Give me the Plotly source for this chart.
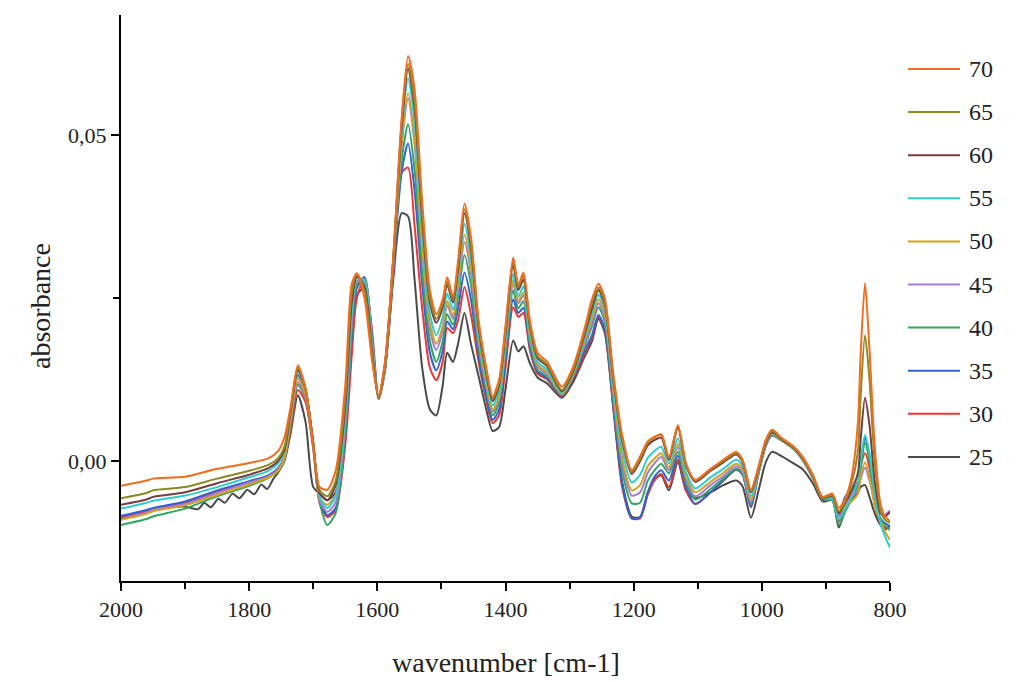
import plotly.graph_objects as go

wavenumber = [2000, 1960, 1950, 1900, 1850, 1800, 1770, 1755, 1745, 1735, 1724, 1712, 1700, 1690, 1678, 1665,
              1650, 1640, 1632, 1620, 1608, 1598, 1588, 1575, 1562, 1552, 1542, 1530, 1518, 1508, 1498, 1491,
              1482, 1474, 1464, 1454, 1442, 1430, 1420, 1410, 1400, 1388, 1380, 1372, 1362, 1350, 1335, 1312,
              1295, 1278, 1265, 1255, 1245, 1232, 1218, 1203, 1190, 1178, 1168, 1157, 1145, 1131, 1118, 1104,
              1080, 1060, 1040, 1030, 1017, 1005, 994, 984, 970, 950, 936, 920, 905, 890, 880, 870, 860, 850,
              846, 839, 832, 824, 815, 808, 800]

# the 25 series is noisier between 1900 and 1760, so it has its own, denser wavenumber list
wavenumber_25 = [2000, 1960, 1950, 1900, 1880, 1870, 1860, 1848, 1838, 1826, 1815, 1803, 1792, 1781, 1772, 1762,
                 1755, 1745, 1735, 1724, 1712, 1700, 1690, 1678, 1665,
                 1650, 1640, 1632, 1620, 1608, 1598, 1588, 1575, 1562, 1552, 1542, 1530, 1518, 1508, 1498, 1491,
                 1482, 1474, 1464, 1454, 1442, 1430, 1420, 1410, 1400, 1388, 1380, 1372, 1362, 1350, 1335, 1312,
                 1295, 1278, 1265, 1255, 1245, 1232, 1218, 1203, 1190, 1178, 1168, 1157, 1145, 1131, 1118, 1104,
                 1080, 1060, 1040, 1030, 1017, 1005, 994, 984, 970, 950, 936, 920, 905, 890, 880, 870, 860, 850,
                 846, 839, 832, 824, 815, 808, 800]

s70 = [-.0038, -.0030, -.0027, -.0024, -.0012, -.0003, .0004, .0015, .0036, .0085, .0147, .0110, .0025, -.0040, -.0044, -.0015,
       .0116, .0271, .0288, .0250, .0152, .0100, .0152, .0316, .0526, .0621, .0571, .0398, .0262, .0225, .0248, .0282,
       .0252, .0307, .0395, .0344, .0216, .0143, .0099, .0125, .0207, .0312, .0271, .0289, .0216, .0166, .0152, .0114,
       .0143, .0198, .0248, .0272, .0250, .0135, .0040, -.0014, .0007, .0030, .0037, .0040, .0005, .0055, -.0005, -.0029,
       -.0012, .0002, .0014, .0002, -.0044, -.0008, .0032, .0048, .0036, .0022, .0006, -.0022, -.0055, -.0050, -.0072, -.0058, -.0025, .0060,
       .0160, .0273, .0170, .0025, -.0065, -.0085, -.0092]

s65 = [-.0057, -.0049, -.0045, -.0040, -.0027, -.0015, -.0006, .0004, .0022, .0080, .0143, .0112, .0026, -.0045, -.0054, -.0030,
       .0098, .0257, .0287, .0262, .0160, .0098, .0150, .0313, .0521, .0609, .0553, .0382, .0251, .0218, .0242, .0275,
       .0248, .0300, .0386, .0334, .0211, .0139, .0096, .0120, .0202, .0307, .0267, .0284, .0211, .0161, .0148, .0109,
       .0139, .0193, .0242, .0266, .0244, .0131, .0036, -.0017, .0003, .0028, .0036, .0041, .0006, .0054, -.0006, -.0030,
       -.0013, .0000, .0012, .0000, -.0046, -.0010, .0030, .0046, .0035, .0021, .0005, -.0023, -.0057, -.0052, -.0077, -.0062, -.0035, .0015,
       .0095, .0193, .0125, .0000, -.0075, -.0090, -.0095]

s60 = [-.0067, -.0059, -.0055, -.0048, -.0034, -.0021, -.0011, .0000, .0017, .0077, .0140, .0110, .0028, -.0050, -.0060, -.0037,
       .0084, .0243, .0283, .0268, .0166, .0097, .0149, .0311, .0512, .0602, .0542, .0371, .0243, .0212, .0236, .0271,
       .0243, .0293, .0380, .0327, .0205, .0134, .0092, .0116, .0196, .0301, .0262, .0278, .0207, .0158, .0145, .0107,
       .0136, .0189, .0234, .0262, .0240, .0127, .0032, -.0020, .0000, .0024, .0032, .0036, .0002, .0051, -.0008, -.0032,
       -.0015, -.0002, .0010, -.0002, -.0048, -.0012, .0028, .0044, .0034, .0020, .0004, -.0024, -.0058, -.0053, -.0080, -.0064, -.0045, -.0018,
       .0030, .0097, .0055, -.0030, -.0080, -.0085, -.0078]

s55 = [-.0073, -.0064, -.0061, -.0053, -.0040, -.0025, -.0015, -.0004, .0015, .0074, .0137, .0108, .0028, -.0055, -.0072, -.0053,
       .0070, .0225, .0280, .0275, .0175, .0097, .0148, .0309, .0503, .0587, .0521, .0353, .0225, .0193, .0221, .0257,
       .0232, .0282, .0364, .0312, .0196, .0127, .0085, .0107, .0187, .0287, .0252, .0268, .0200, .0152, .0140, .0105,
       .0134, .0184, .0227, .0255, .0233, .0118, .0018, -.0033, -.0021, .0005, .0015, .0022, -.0004, .0035, -.0018, -.0042,
       -.0025, -.0012, .0002, -.0008, -.0054, -.0014, .0027, .0043, .0034, .0020, .0004, -.0025, -.0058, -.0058, -.0090, -.0074, -.0055, -.0030,
       .0000, .0040, .0012, -.0050, -.0095, -.0115, -.0133]

s50 = [-.0090, -.0081, -.0077, -.0068, -.0052, -.0036, -.0025, -.0015, .0004, .0066, .0127, .0102, .0028, -.0057, -.0067, -.0052,
       .0070, .0230, .0280, .0275, .0175, .0095, .0146, .0307, .0489, .0564, .0496, .0330, .0211, .0180, .0207, .0245,
       .0223, .0271, .0347, .0298, .0189, .0120, .0079, .0099, .0180, .0278, .0245, .0259, .0193, .0148, .0136, .0103,
       .0131, .0180, .0219, .0248, .0226, .0110, .0005, -.0045, -.0037, -.0008, .0003, .0012, -.0010, .0026, -.0024, -.0048,
       -.0032, -.0018, -.0004, -.0013, -.0059, -.0016, .0026, .0042, .0033, .0019, .0002, -.0026, -.0058, -.0052, -.0080, -.0070, -.0062, -.0050,
       -.0025, -.0002, -.0025, -.0068, -.0092, -.0108, -.0121]

s45 = [-.0089, -.0079, -.0075, -.0066, -.0049, -.0033, -.0024, -.0013, .0006, .0063, .0121, .0098, .0025, -.0060, -.0078, -.0063,
       .0057, .0211, .0275, .0278, .0180, .0095, .0145, .0305, .0485, .0556, .0487, .0321, .0202, .0170, .0200, .0239,
       .0218, .0263, .0336, .0289, .0183, .0116, .0076, .0096, .0175, .0272, .0242, .0254, .0189, .0145, .0133, .0102,
       .0130, .0175, .0212, .0242, .0220, .0104, -.0003, -.0053, -.0048, -.0018, -.0004, .0006, -.0014, .0021, -.0028, -.0054,
       -.0037, -.0023, -.0008, -.0017, -.0063, -.0017, .0025, .0041, .0033, .0019, .0002, -.0026, -.0058, -.0055, -.0085, -.0066, -.0055, -.0045,
       -.0028, -.0010, -.0030, -.0060, -.0078, -.0082, -.0076]

s40 = [-.0098, -.0089, -.0085, -.0073, -.0054, -.0038, -.0026, -.0016, .0002, .0060, .0117, .0095, .0022, -.0063, -.0098, -.0080,
       .0043, .0198, .0270, .0280, .0184, .0095, .0143, .0301, .0462, .0517, .0448, .0293, .0184, .0152, .0184, .0225,
       .0209, .0251, .0316, .0271, .0172, .0109, .0070, .0089, .0166, .0262, .0234, .0245, .0181, .0140, .0130, .0101,
       .0129, .0172, .0207, .0236, .0213, .0097, -.0015, -.0065, -.0064, -.0030, -.0015, -.0004, -.0019, .0014, -.0034, -.0059,
       -.0043, -.0027, -.0012, -.0019, -.0066, -.0018, .0024, .0040, .0032, .0018, .0001, -.0027, -.0059, -.0060, -.0098, -.0078, -.0058, -.0038,
       -.0012, .0028, .0000, -.0055, -.0090, -.0098, -.0106]

s35 = [-.0084, -.0075, -.0072, -.0062, -.0045, -.0031, -.0022, -.0011, .0006, .0070, .0132, .0104, .0025, -.0060, -.0083, -.0072,
       .0038, .0189, .0265, .0282, .0189, .0096, .0141, .0296, .0444, .0487, .0416, .0271, .0166, .0139, .0169, .0214,
       .0202, .0234, .0289, .0248, .0161, .0099, .0063, .0079, .0154, .0248, .0227, .0235, .0175, .0137, .0127, .0100,
       .0127, .0166, .0193, .0224, .0202, .0088, -.0035, -.0088, -.0086, -.0048, -.0025, -.0014, -.0030, .0008, -.0040, -.0066,
       -.0048, -.0030, -.0013, -.0021, -.0070, -.0018, .0023, .0039, .0032, .0018, .0001, -.0027, -.0059, -.0056, -.0085, -.0055, -.0045, -.0033,
       -.0008, .0036, .0005, -.0055, -.0088, -.0095, -.0100]

s30 = [-.0087, -.0077, -.0074, -.0064, -.0047, -.0033, -.0024, -.0013, .0004, .0050, .0109, .0090, .0018, -.0065, -.0086, -.0075,
       .0025, .0161, .0250, .0280, .0198, .0097, .0139, .0289, .0442, .0450, .0362, .0234, .0143, .0124, .0152, .0204,
       .0196, .0216, .0267, .0225, .0152, .0093, .0058, .0070, .0143, .0236, .0221, .0227, .0170, .0134, .0125, .0099,
       .0125, .0161, .0189, .0222, .0200, .0085, -.0040, -.0088, -.0088, -.0052, -.0030, -.0020, -.0040, .0002, -.0046, -.0066,
       -.0048, -.0030, -.0013, -.0021, -.0071, -.0018, .0023, .0042, .0033, .0019, .0004, -.0027, -.0059, -.0060, -.0093, -.0066, -.0052, -.0030,
       -.0008, .0012, -.0010, -.0065, -.0095, -.0102, -.0102]

s25 = [-.0086, -.0077, -.0074, -.0070, -.0074, -.0064, -.0071, -.0058, -.0064, -.0050, -.0057, -.0044, -.0051, -.0036, -.0043, -.0027,
       -.0018, .0000, .0045, .0101, .0060, -.0040, -.0050, -.0060, -.0048,
       .0052, .0189, .0255, .0265, .0161, .0095, .0143, .0280, .0380, .0375, .0280, .0143, .0079, .0070, .0116, .0166,
       .0152, .0180, .0227, .0180, .0130, .0079, .0046, .0052, .0110, .0185, .0168, .0176, .0150, .0128, .0119, .0097,
       .0120, .0157, .0184, .0218, .0196, .0083, -.0032, -.0085, -.0086, -.0048, -.0030, -.0022, -.0045, -.0002, -.0046, -.0057,
       -.0048, -.0037, -.0030, -.0039, -.0087, -.0045, -.0002, .0014, .0008, -.0004, -.0013, -.0035, -.0062, -.0060, -.0102, -.0075, -.0060, -.0048,
       -.0040, -.0037, -.0055, -.0080, -.0098, -.0105, -.0100]

series_names = ["25", "30", "35", "40", "45", "50", "55", "60", "65", "70"]
series_values = [s25, s30, s35, s40, s45, s50, s55, s60, s65, s70]
series_x = [wavenumber_25] + [wavenumber] * 9
series_colors = ["#4a4a4a", "#ee3535", "#2f64cf", "#30a560", "#a77ad8", "#d6a11c",
                 "#2ccdd0", "#7a3c3c", "#8c8a22", "#f46a1f"]

x_ticks = [2000, 1800, 1600, 1400, 1200, 1000, 800]
y_tick_vals = [0.0, 0.05]
y_tick_text = ["0,00", "0,05"]

FONT = "Liberation Serif"

fig = go.Figure()
for name, xs, vals, col in zip(series_names, series_x, series_values, series_colors):
    fig.add_trace(go.Scatter(x=xs, y=vals, mode="lines", name=name,
                             line=dict(color=col, width=2, shape="spline", smoothing=0.7),
                             showlegend=False))

# plot area in pixels
L, R, T, B = 121, 890, 15, 581
W, H = 1029, 682
pw, ph = R - L, B - T

shapes = []
annotations = []
legend_order = list(zip(series_names, series_colors))[::-1]
for i, (name, col) in enumerate(legend_order):
    ypx = 69 + 43.1 * i
    yp = (B - ypx) / ph
    shapes.append(dict(type="line", xref="paper", yref="paper",
                       x0=(908 - L) / pw, x1=(960 - L) / pw, y0=yp, y1=yp,
                       line=dict(color=col, width=2)))
    annotations.append(dict(xref="paper", yref="paper", x=(967 - L) / pw, y=yp,
                            text=name, showarrow=False, xanchor="left", yanchor="middle",
                            font=dict(family=FONT, size=24, color="#222")))

annotations.append(dict(xref="paper", yref="paper", x=(40 - L) / pw, y=(B - 306) / ph, text="absorbance",
                        textangle=-90, showarrow=False, xanchor="center", yanchor="middle",
                        font=dict(family=FONT, size=28, color="#222")))
annotations.append(dict(xref="paper", yref="paper", x=0.5, y=(B - 662) / ph, text="wavenumber [cm-1]",
                        showarrow=False, xanchor="center", yanchor="middle",
                        font=dict(family=FONT, size=28, color="#222")))

fig.update_layout(
    width=W, height=H,
    margin=dict(l=L, r=W - R, t=T, b=H - B),
    paper_bgcolor="white", plot_bgcolor="white",
    font=dict(family=FONT, color="#222"),
    shapes=shapes, annotations=annotations,
    showlegend=False,
)
fig.update_xaxes(range=[2000, 800], tickvals=x_ticks, ticktext=[str(t) for t in x_ticks],
                 showline=True, linecolor="black", linewidth=2, mirror=False,
                 ticks="outside", ticklen=8, tickwidth=2, tickcolor="black",
                 minor=dict(tickvals=[1900, 1700, 1500, 1300, 1100, 900], ticks="outside",
                            ticklen=6, tickwidth=2, tickcolor="black"),
                 showgrid=False, zeroline=False,
                 tickfont=dict(family=FONT, size=22, color="#222"))
fig.update_yaxes(range=[-0.0184, 0.0684], tickvals=y_tick_vals, ticktext=y_tick_text,
                 showline=True, linecolor="black", linewidth=2, mirror=False,
                 ticks="outside", ticklen=8, tickwidth=2, tickcolor="black",
                 minor=dict(tickvals=[0.025], ticks="outside", ticklen=6, tickwidth=2, tickcolor="black"),
                 showgrid=False, zeroline=False,
                 tickfont=dict(family=FONT, size=22, color="#222"))

fig.write_html("out.html")
